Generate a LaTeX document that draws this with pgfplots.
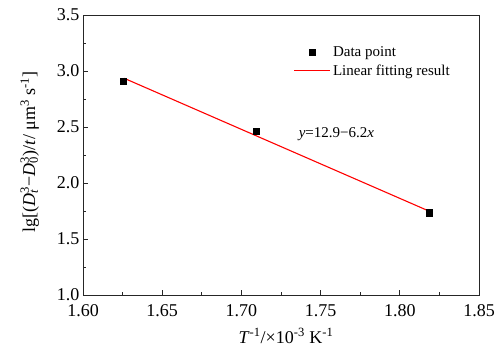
\documentclass[border=0pt]{standalone}
\usepackage{fontspec}
\setmainfont{Liberation Serif}
\usepackage{pgfplots}
\pgfplotsset{compat=1.18}
\definecolor{fitred}{RGB}{255,0,0}
\pgfplotsset{
  marklegend/.style={legend image code/.code={\draw[##1] plot coordinates {(18pt,0pt)};}},
  redlegend/.style={legend image code/.code={\path[draw=fitred, line width=1.2pt] (0pt,0.5pt) -- (36pt,0.5pt);}},
}
\newcommand\supsub[2]{\rlap{\textsuperscript{#1}}\textsubscript{#2}}
\begin{document}
\begin{tikzpicture}
\begin{axis}[
  scale only axis,
  width=396pt, height=280pt,
  xmin=1.60, xmax=1.85, ymin=1.0, ymax=3.5,
  xtick={1.60,1.65,...,1.85},
  ytick={1.0,1.5,...,3.5},
  minor x tick num=1, minor y tick num=1,
  xtick pos=bottom, ytick pos=left,
  tick align=inside,
  major tick length=5pt, minor tick length=3pt,
  axis line style={line width=1pt, black!85},
  every tick/.style={line width=0.8pt, black!85},
  /pgf/number format/assume math mode=true,
  xticklabel style={font=\fontsize{18}{20}\selectfont, yshift=-6pt, /pgf/number format/.cd, fixed, fixed zerofill, precision=2},
  yticklabel style={font=\fontsize{18}{20}\selectfont, /pgf/number format/.cd, fixed, fixed zerofill, precision=1},
  xlabel={\textit{T}\textsuperscript{-1}/×10\textsuperscript{-3} K\textsuperscript{-1}},
  ylabel={lg[(\textit{D}\supsub{3}{\textit{t}}\,−\textit{D}\supsub{3}{0})/\textit{t}/ μm\textsuperscript{3} s\textsuperscript{-1}]},
  label style={font=\fontsize{18}{20}\selectfont},
  xlabel style={yshift=-5pt, xshift=5pt},
  ylabel style={yshift=11pt, xshift=3pt},
  legend style={draw=none, fill=none, at={(rel axis cs:0.532,0.895)}, anchor=north west,
    font=\fontsize{15}{17}\selectfont, row sep=3pt, inner sep=0pt},
  legend cell align=left,
]
\addplot[only marks, mark=square*, mark size=3.2pt, black, marklegend] coordinates {
  (1.6254,2.911) (1.7092,2.464) (1.8184,1.735)
};
\addlegendentry{Data point}
\addplot[fitred, line width=1.1pt, mark=none, redlegend] coordinates {
  (1.626,2.935) (1.818,1.752)
};
\addlegendentry{Linear fitting result}
\node[anchor=west, font=\fontsize{15}{17}\selectfont] at (axis cs:1.734,2.44) {\textit{y}=12.9−6.2\textit{x}};
\coordinate (bl) at (rel axis cs:-0.2096,-0.1893);
\coordinate (tr) at (rel axis cs:1.0606,1.0536);
\end{axis}
\pgfresetboundingbox
\path (bl) rectangle (tr);
\end{tikzpicture}
\end{document}
